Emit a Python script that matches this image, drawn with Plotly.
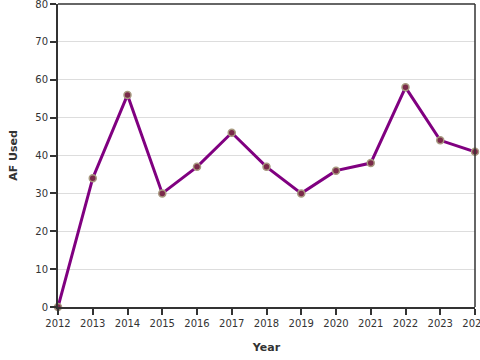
import plotly.graph_objects as go

years = [2012, 2013, 2014, 2015, 2016, 2017, 2018, 2019, 2020, 2021, 2022, 2023, 2024]
af_used = [0, 34, 56, 30, 37, 46, 37, 30, 36, 38, 58, 44, 41]

fig = go.Figure()
fig.add_trace(go.Scatter(
    x=years, y=af_used, mode="lines+markers",
    line=dict(color="#800080", width=3),
    marker=dict(size=7, color="#7a2a4a", line=dict(color="#a89a80", width=1.5)),
    cliponaxis=False,
))

font = "DejaVu Sans"
fig.update_layout(
    width=480, height=360,
    margin=dict(l=58, r=5, t=4, b=53, autoexpand=False),
    plot_bgcolor="white", paper_bgcolor="white",
    showlegend=False,
    font=dict(family=font, size=10, color="#333333"),
    xaxis=dict(
        range=[2012, 2024], tickmode="array", tickvals=years,
        ticktext=[str(y) for y in years],
        automargin=False, ticklabeloverflow="allow",
        showgrid=False, zeroline=False,
        showline=True, linecolor="#333333", linewidth=2,
        ticks="outside", ticklen=6, tickcolor="#333333", tickwidth=1.5,
        title=dict(text="<b>Year</b>", font=dict(size=11, family=font, color="#333333")),
    ),
    yaxis=dict(
        range=[0, 80], dtick=10,
        automargin=False, ticklabeloverflow="allow",
        showgrid=True, gridcolor="#dddddd", gridwidth=1,
        zeroline=False,
        showline=True, linecolor="#333333", linewidth=2,
        ticks="outside", ticklen=6, tickcolor="#333333", tickwidth=1.5,
        title=dict(text="<b>AF Used</b>", font=dict(size=11, family=font, color="#333333")),
    ),
    shapes=[
        dict(type="line", xref="paper", yref="paper", x0=0, x1=1, y0=1, y1=1,
             line=dict(color="#333333", width=1.5)),
        dict(type="line", xref="paper", yref="paper", x0=1, x1=1, y0=0, y1=1,
             line=dict(color="#333333", width=1.5)),
    ],
)

fig.write_html(
    "out.html",
    config={"displayModeBar": False},
    post_script="document.body.style.margin='0';document.body.style.overflow='hidden';",
)
